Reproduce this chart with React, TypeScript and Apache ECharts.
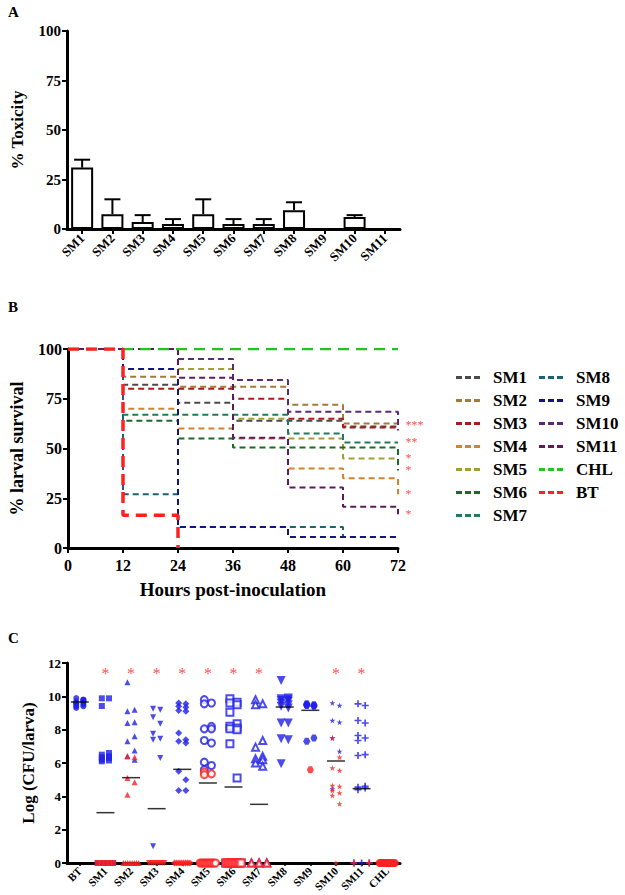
import React, { useEffect, useRef } from 'react';
import * as echarts from 'echarts';

const FONT = 'Liberation Serif, Times New Roman, serif';

// ---------- Panel A ----------
const toxCategories = ['SM1', 'SM2', 'SM3', 'SM4', 'SM5', 'SM6', 'SM7', 'SM8', 'SM9', 'SM10', 'SM11'];
const toxMean = [31, 7.5, 3.5, 2.5, 7.5, 2.5, 2.5, 9.5, 0, 6, 0];
const toxUpper = [35, 15, 7, 5, 15, 5, 5, 13.5, 0, 7, 0];

// ---------- Panel B ----------
const bNames = ['SM1', 'SM2', 'SM3', 'SM4', 'SM5', 'SM6', 'SM7', 'SM8', 'SM9', 'SM10', 'SM11', 'CHL', 'BT'];
const sm1Surv = [[0, 100], [12, 82], [24, 73], [36, 64], [60, 61], [72, 61]];
const sm2Surv = [[0, 100], [12, 86], [24, 81], [48, 72], [60, 62.6], [72, 62.6]];
const sm3Surv = [[0, 100], [12, 80], [36, 75], [48, 65], [60, 60.6], [72, 60.6]];
const sm4Surv = [[0, 100], [12, 70], [24, 60], [36, 55], [48, 40], [60, 35], [72, 27]];
const sm5Surv = [[0, 100], [24, 90], [36, 65], [48, 55], [60, 45], [72, 45]];
const sm6Surv = [[0, 100], [12, 64], [24, 55], [36, 50.5], [72, 39]];
const sm7Surv = [[0, 100], [12, 67], [48, 57.6], [60, 53], [72, 53]];
const sm8Surv = [[0, 100], [12, 27], [24, 10.5], [60, 5.5], [72, 5.5]];
const sm9Surv = [[0, 100], [12, 90], [24, 10.5], [48, 5.5], [72, 5.5]];
const sm10Surv = [[0, 100], [24, 95], [36, 84.4], [48, 68.5], [72, 59]];
const sm11Surv = [[0, 100], [24, 85.5], [36, 55.4], [48, 30.4], [60, 20.7], [72, 17]];
const chlSurv = [[0, 100], [72, 100]];
const btSurv = [[0, 100], [12, 16.5], [24, 0]];
const bData = [sm1Surv, sm2Surv, sm3Surv, sm4Surv, sm5Surv, sm6Surv, sm7Surv, sm8Surv, sm9Surv, sm10Surv, sm11Surv, chlSurv, btSurv];
const bColors = ['#4a4a4a', '#a6783a', '#a81c1c', '#d4822c', '#a0a032', '#1c6a24', '#1f7a5e', '#1d6272', '#12157e', '#5c2a78', '#5e1a5c', '#22c422', '#ff2020'];
const bLegend1 = ['SM1', 'SM2', 'SM3', 'SM4', 'SM5', 'SM6', 'SM7'];
const bLegend2 = ['SM8', 'SM9', 'SM10', 'SM11', 'CHL', 'BT'];
const bStars = ['***', '**', '*', '*', '*', '*'];
const bStarY = [61.6, 53.2, 45.4, 39, 27.3, 17.3];

// ---------- Panel C ----------
const cCats = ['BT', 'SM1', 'SM2', 'SM3', 'SM4', 'SM5', 'SM6', 'SM7', 'SM8', 'SM9', 'SM10', 'SM11', 'CHL'];
const btBlue = [9.3, 9.4, 9.5, 9.6, 9.7, 9.8, 9.9, 9.5, 9.6, 9.7, 9.4, 9.8, 9.6, 9.7];
const btRed: number[] = [];
const sm1Blue = [9.88, 9.88, 9.42, 6.6, 6.5, 6.4, 6.35, 6.3, 6.2, 6.15, 6.1, 0, 0, 0, 0];
const sm1Red = [0, 0, 0, 0, 0];
const sm2Blue = [10.85, 9.2, 9.1, 8.45, 8.4, 7.6, 7.3, 6.75, 6.4, 6.2];
const sm2Red = [6.4, 6.35, 5.1, 4.85, 4.1, 0, 0, 0, 0, 0, 0, 0, 0];
const sm3Blue = [9.25, 9.2, 8.75, 8.35, 7.75, 7.45, 7.4, 6.3, 1.0];
const sm3Red = [0, 0, 0, 0, 0, 0, 0, 0];
const sm4Blue = [9.6, 9.55, 9.4, 9.35, 9.15, 9.1, 7.8, 7.4, 7.3, 7.2, 5.5, 5.0, 4.35, 4.35];
const sm4Red = [0, 0, 0, 0, 0, 0, 0, 0];
const sm5Blue = [9.8, 9.6, 9.55, 8.2, 8.05, 8.05, 7.35, 7.2, 6.05, 5.85, 5.6];
const sm5Red = [5.45, 5.35, 5.3, 0, 0, 0, 0, 0, 0, 0, 0, 0, 0, 0, 0];
const sm6Blue = [9.85, 9.65, 9.6, 9.5, 9.05, 8.35, 8.2, 8.1, 8.05, 8.0, 7.15, 5.1, 0, 0];
const sm6Red = [0, 0, 0, 0, 0, 0, 0, 0, 0, 0, 0, 0];
const sm7Blue = [9.8, 9.55, 9.5, 7.35, 6.95, 6.4, 6.25, 6.2, 6.0, 5.8, 0, 0, 0];
const sm7Red = [0, 0, 0];
const sm8Blue = [10.95, 9.9, 9.85, 9.8, 9.75, 9.7, 9.6, 9.5, 9.4, 9.3, 8.4, 8.4, 7.45, 7.4, 5.95];
const sm8Red: number[] = [];
const sm9Blue = [9.55, 9.5, 9.5, 9.45, 9.45, 9.4, 9.5, 7.5, 7.3];
const sm9Red = [5.6];
const sm10Blue = [9.6, 9.45, 8.55, 8.45, 7.5, 6.7, 4.45];
const sm10Red = [7.5, 6.35, 5.7, 5.55, 4.65, 4.6, 4.35, 4.2, 4.05, 3.55, 0];
const sm11Blue = [9.55, 9.45, 8.55, 8.4, 7.65, 7.5, 7.35, 6.5, 6.45, 4.6, 4.55, 4.5, 4.4, 0, 0, 0];
const sm11Red = [0, 0];
const chlBlue: number[] = [];
const chlRed = [0, 0, 0, 0, 0, 0, 0, 0, 0, 0, 0, 0, 0, 0, 0];
const cBlue = [btBlue, sm1Blue, sm2Blue, sm3Blue, sm4Blue, sm5Blue, sm6Blue, sm7Blue, sm8Blue, sm9Blue, sm10Blue, sm11Blue, chlBlue];
const cRed = [btRed, sm1Red, sm2Red, sm3Red, sm4Red, sm5Red, sm6Red, sm7Red, sm8Red, sm9Red, sm10Red, sm11Red, chlRed];
const cMedian = [9.66, 3.02, 5.12, 3.26, 5.62, 4.8, 4.56, 3.52, 9.36, 9.16, 6.12, 4.46, null];
const cStarCats = ['SM1', 'SM2', 'SM3', 'SM4', 'SM5', 'SM6', 'SM7', 'SM10', 'SM11'];
const cStarLevel = 11.55;

const BLUE = '#1f1fe8';
const RED = '#ff2020';

const STAR = 'path://M50,0 L61,35 L98,35 L68,57 L79,91 L50,70 L21,91 L32,57 L2,35 L39,35 Z';
const PLUS = 'path://M38,0 H62 V38 H100 V62 H62 V100 H38 V62 H0 V38 H38 Z';
const HEX = 'path://M25,0 L75,0 L100,50 L75,100 L25,100 L0,50 Z';
const DASH_ICON = 'path://M0,0 H6 V3 H0 Z M9,0 H15 V3 H9 Z M18,0 H24 V3 H18 Z';
const cSymbols = ['circle', 'rect', 'triangle', 'triangle', 'diamond', 'emptyCircle', 'emptyRect', 'emptyTriangle', 'triangle', HEX, STAR, PLUS, 'circle'];
const cRotate = [0, 0, 0, 180, 0, 0, 0, 0, 180, 0, 0, 0, 0];
const cSize = [6, 6, 6, 6, 7, 7, 7, 7, 9, 7, 6, 7, 8];

function layout(ci: number, vals: number[]) {
  const out: number[][] = [];
  const nz = vals.filter((v) => v > 0);
  const zs = vals.filter((v) => v <= 0);
  nz.forEach((v, j) => {
    const off = nz.length === 1 ? 0 : j % 2 === 0 ? -0.14 : 0.14;
    out.push([ci + 0.5 + off, v]);
  });
  zs.forEach((v, j) => {
    const off = zs.length === 1 ? 0 : -0.3 + (0.6 * j) / (zs.length - 1);
    out.push([ci + 0.5 + off, v]);
  });
  return out;
}

const lbl = (size: number) => ({ fontFamily: FONT, fontWeight: 'bold' as const, fontSize: size, color: '#000' });
const axisLine = { show: true, lineStyle: { color: '#000', width: 3 } };
const axisTick = { show: true, length: 5, lineStyle: { color: '#000', width: 2 } };

export default function App() {
  const ref = useRef<HTMLDivElement>(null);
  useEffect(() => {
    if (!ref.current) return;
    const chart = echarts.init(ref.current, undefined, { renderer: 'svg' });

    const series: any[] = [];
    // Panel A
    series.push({
      type: 'bar', xAxisIndex: 0, yAxisIndex: 0, data: toxMean, barWidth: 22,
      itemStyle: { color: '#fff', borderColor: '#000', borderWidth: 2 }, silent: true,
    });
    series.push({
      type: 'custom', xAxisIndex: 0, yAxisIndex: 0,
      data: toxMean.map((m, i) => [i, m, toxUpper[i]]),
      renderItem: (params: any, api: any) => {
        const x = api.value(0), m = api.value(1), u = api.value(2);
        if (u <= m) return { type: 'group', children: [] };
        const p1 = api.coord([x, m]);
        const p2 = api.coord([x, u]);
        return {
          type: 'group', children: [
            { type: 'line', shape: { x1: p1[0], y1: p1[1], x2: p2[0], y2: p2[1] }, style: { stroke: '#000', lineWidth: 2 } },
            { type: 'line', shape: { x1: p2[0] - 8, y1: p2[1], x2: p2[0] + 8, y2: p2[1] }, style: { stroke: '#000', lineWidth: 2 } },
          ],
        };
      },
      silent: true,
    });
    // Panel B
    bNames.forEach((n, i) => {
      const big = n === 'BT' || n === 'CHL';
      series.push({
        name: n, type: 'line', xAxisIndex: 1, yAxisIndex: 1, data: bData[i], step: 'end', symbol: 'none',
        lineStyle: { color: bColors[i], width: n === 'BT' ? 3.5 : big ? 2.5 : 2, type: big ? [11, 7] : [6, 4] },
        itemStyle: { color: bColors[i] }, silent: true, z: big ? 3 : 2,
      });
    });
    series.push({
      type: 'scatter', xAxisIndex: 1, yAxisIndex: 1, symbol: 'circle', symbolSize: 1,
      itemStyle: { color: 'rgba(0,0,0,0)' },
      data: bStarY.map((y, i) => ({ value: [72, y], label: { formatter: bStars[i] } })),
      label: { show: true, position: 'right', distance: 7, color: RED, fontSize: 12, fontFamily: FONT },
      silent: true,
    });
    // Panel C
    cCats.forEach((c, i) => {
      const empty = String(cSymbols[i]).startsWith('empty');
      [[cBlue[i], BLUE], [cRed[i], RED]].forEach(([vals, col]: any) => {
        if (!vals.length) return;
        series.push({
          type: 'scatter', xAxisIndex: 2, yAxisIndex: 2, data: layout(i, vals),
          symbol: cSymbols[i], symbolRotate: cRotate[i], symbolSize: cSize[i],
          itemStyle: empty ? { color: col, borderColor: col, borderWidth: 1.8 } : { color: col },
          silent: true, z: 4,
        });
      });
    });
    series.push({
      type: 'scatter', xAxisIndex: 2, yAxisIndex: 2, symbol: 'rect', symbolSize: [18, 1.5],
      itemStyle: { color: '#000' },
      data: cMedian.map((m, i) => (m == null ? null : [i + 0.5, m])).filter((d) => d),
      silent: true, z: 5,
    });
    series.push({
      type: 'scatter', xAxisIndex: 2, yAxisIndex: 2, symbol: 'circle', symbolSize: 1,
      itemStyle: { color: 'rgba(0,0,0,0)' },
      data: cStarCats.map((c) => [cCats.indexOf(c) + 0.5, cStarLevel]),
      label: { show: true, position: 'inside', formatter: '*', color: RED, fontSize: 16, fontFamily: FONT, offset: [0, 3] },
      silent: true,
    });

    const legendBase = {
      orient: 'vertical', top: 364, itemWidth: 24, itemHeight: 3, itemGap: 6, selectedMode: false,
      icon: DASH_ICON,
      textStyle: { ...lbl(17), padding: [0, 0, 0, 8] },
    };

    chart.setOption({
      animation: false,
      backgroundColor: '#fff',
      grid: [
        { left: 67, top: 31, width: 333, height: 198 },
        { left: 67, top: 349, width: 331, height: 199 },
        { left: 67, top: 663, width: 333, height: 200 },
      ],
      legend: [
        { ...legendBase, left: 451, data: bLegend1 },
        { ...legendBase, left: 534, data: bLegend2 },
      ],
      xAxis: [
        {
          gridIndex: 0, type: 'category', data: toxCategories, axisLine, position: 'bottom',
          axisTick: { ...axisTick, alignWithLabel: true }, axisLabel: { ...lbl(13), rotate: 45, margin: 7, interval: 0 },
        },
        {
          gridIndex: 1, type: 'value', min: 0, max: 72, interval: 12, axisLine, axisTick, position: 'bottom',
          axisLabel: { ...lbl(16), margin: 9 }, splitLine: { show: false },
          name: 'Hours post-inoculation', nameLocation: 'middle', nameGap: 32, nameTextStyle: lbl(19),
        },
        { gridIndex: 2, type: 'value', min: 0, max: 13, show: false, position: 'bottom', splitLine: { show: false } },
        {
          gridIndex: 2, type: 'category', data: cCats, axisLine, position: 'bottom',
          axisTick: { show: true, length: 3, alignWithLabel: true, lineStyle: { color: '#000', width: 1.5 } },
          axisLabel: { ...lbl(11), rotate: 45, margin: 6, interval: 0 },
        },
      ],
      yAxis: [
        {
          gridIndex: 0, type: 'value', min: 0, max: 100, interval: 25, axisLine, axisTick,
          axisLabel: { ...lbl(15), margin: 6 }, splitLine: { show: false },
          name: '% Toxicity', nameLocation: 'middle', nameGap: 41, nameTextStyle: lbl(17),
        },
        {
          gridIndex: 1, type: 'value', min: 0, max: 100, interval: 25, axisLine, axisTick,
          axisLabel: { ...lbl(16), margin: 6 }, splitLine: { show: false },
          name: '% larval survival', nameLocation: 'middle', nameGap: 42, nameTextStyle: lbl(18),
        },
        {
          gridIndex: 2, type: 'value', min: 0, max: 12, interval: 2, axisLine, axisTick,
          axisLabel: { ...lbl(13), margin: 6 }, splitLine: { show: false },
          name: 'Log (CFU/larva)', nameLocation: 'middle', nameGap: 28, nameTextStyle: lbl(17),
        },
      ],
      graphic: [
        { type: 'text', left: 8, top: 4, style: { text: 'A', font: `bold 15px ${FONT}`, fill: '#000' } },
        { type: 'text', left: 8, top: 299, style: { text: 'B', font: `bold 15px ${FONT}`, fill: '#000' } },
        { type: 'text', left: 8, top: 630, style: { text: 'C', font: `bold 15px ${FONT}`, fill: '#000' } },
      ],
      series,
    });

    return () => chart.dispose();
  }, []);
  return <div ref={ref} style={{ position: 'absolute', left: 0, top: 0, width: 625, height: 895 }} />;
}
